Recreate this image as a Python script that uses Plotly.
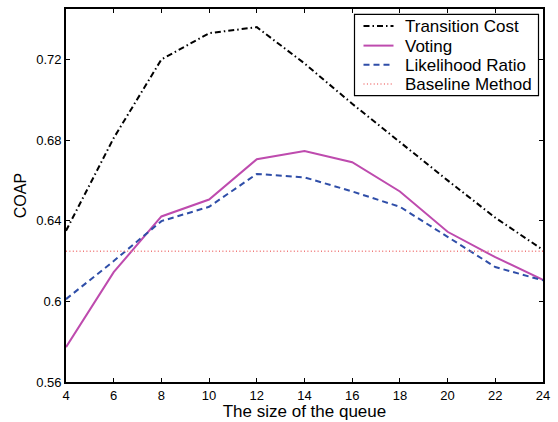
import plotly.graph_objects as go

# Queue sizes on the x axis
queue_size = [4, 6, 8, 10, 12, 14, 16, 18, 20, 22, 24]

# COAP for each method
transition_cost = [0.635, 0.681, 0.720, 0.733, 0.736, 0.718, 0.698, 0.679, 0.660, 0.6415, 0.6255]
voting = [0.5773, 0.6145, 0.6421, 0.6505, 0.6705, 0.6746, 0.6690, 0.6545, 0.6345, 0.6219, 0.6107]
likelihood_ratio = [0.6011, 0.6200, 0.6398, 0.6469, 0.6632, 0.6615, 0.6545, 0.6469, 0.6320, 0.6170, 0.6104]
baseline_value = 0.6248

series_names = ["Transition Cost", "Voting", "Likelihood Ratio", "Baseline Method"]

y_ticks = [0.56, 0.6, 0.64, 0.68, 0.72]
y_tick_text = ["0.56", "0.6", "0.64", "0.68", "0.72"]
x_ticks = queue_size

FONT = "Liberation Sans, Arial, Helvetica, sans-serif"

# Figure geometry (pixels)
W, H = 558, 422
ML, MR, MT, MB = 66, 15, 7, 38
PW, PH = W - ML - MR, H - MT - MB


def px_x(px):
    """Horizontal pixel position -> paper coordinate."""
    return (px - ML) / PW


def px_y(py):
    """Vertical pixel position (from top) -> paper coordinate."""
    return (H - MB - py) / PH


styles = [
    dict(color="black", width=2, dash="6px,3px,1.5px,3px"),
    dict(color="#BE4BAE", width=2),
    dict(color="#2F4EA8", width=2, dash="6px,4px"),
    dict(color="#F07878", width=1.5, dash="1px,2.4px"),
]

fig = go.Figure()
fig.add_trace(go.Scatter(x=queue_size, y=transition_cost, mode="lines",
                         name=series_names[0], line=styles[0]))
fig.add_trace(go.Scatter(x=queue_size, y=voting, mode="lines",
                         name=series_names[1], line=styles[1]))
fig.add_trace(go.Scatter(x=queue_size, y=likelihood_ratio, mode="lines",
                         name=series_names[2], line=styles[2]))
fig.add_trace(go.Scatter(x=[queue_size[0], queue_size[-1]],
                         y=[baseline_value, baseline_value], mode="lines",
                         name=series_names[3], line=styles[3]))

# Legend box drawn in the upper-right corner of the axes
shapes = [dict(type="rect", xref="paper", yref="paper",
               x0=px_x(354.5), x1=px_x(538.5), y0=px_y(94.5), y1=px_y(12.5),
               line=dict(color="black", width=1.2), fillcolor="white", layer="above")]
annotations = []
row_y = [24.3, 44.0, 63.3, 82.7]
for name, style, ry in zip(series_names, styles, row_y):
    shapes.append(dict(type="line", xref="paper", yref="paper",
                       x0=px_x(363.5), x1=px_x(393.5), y0=px_y(ry), y1=px_y(ry),
                       line=style, layer="above"))
    annotations.append(dict(text=name, xref="paper", yref="paper",
                            x=px_x(402.5), y=px_y(ry + 0.5), xanchor="left", yanchor="middle",
                            showarrow=False, font=dict(family=FONT, size=17, color="black")))

axis_common = dict(
    showline=True, linecolor="black", linewidth=1.8, mirror="ticks",
    ticks="inside", ticklen=4, tickwidth=1, tickcolor="black",
    showgrid=False, zeroline=False,
    tickfont=dict(family=FONT, size=13, color="black"),
)

fig.update_layout(
    width=W, height=H,
    margin=dict(l=ML, r=MR, t=MT, b=MB),
    plot_bgcolor="white", paper_bgcolor="white",
    font=dict(family=FONT, color="black"),
    showlegend=False,
    shapes=shapes,
    annotations=annotations,
    xaxis=dict(
        range=[4, 24], tickvals=x_ticks,
        title=dict(text="The size of the queue", font=dict(family=FONT, size=17), standoff=1),
        **axis_common,
    ),
    yaxis=dict(
        range=[0.56, 0.745], tickvals=y_ticks, ticktext=y_tick_text,
        title=dict(text="COAP", font=dict(family=FONT, size=16), standoff=6),
        **axis_common,
    ),
)

fig.write_html("out.html")
